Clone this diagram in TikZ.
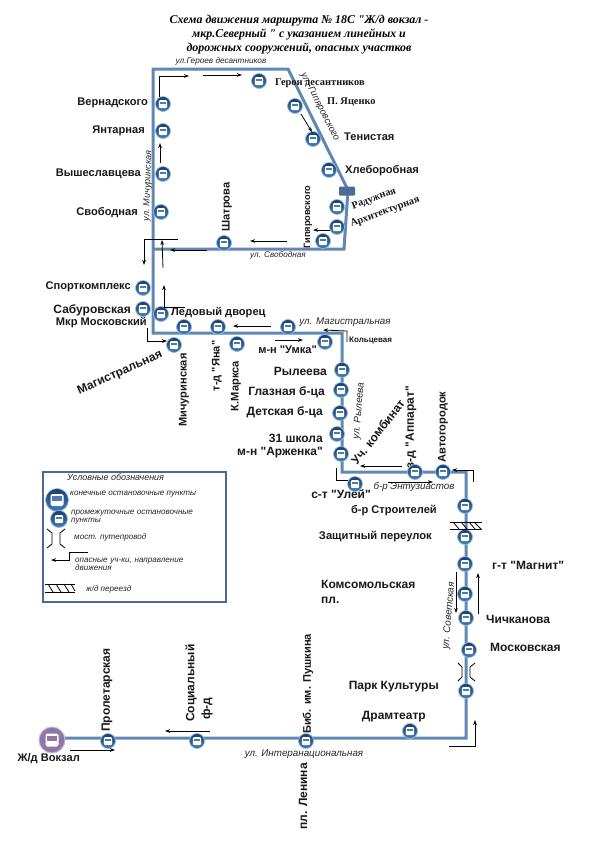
\documentclass[tikz,border=0pt]{standalone}
\usepackage{fontspec}
\newfontfamily\sansf{Liberation Sans}
\newfontfamily\ttlfont{Liberation Serif}
\usetikzlibrary{arrows.meta}
\definecolor{routeblue}{HTML}{5F88B5}
\definecolor{stopblue}{HTML}{1F5C99}
\definecolor{stopdark}{HTML}{173F6E}
\definecolor{stoplight}{HTML}{3E7DB8}
\definecolor{stopedge}{HTML}{9DBBD8}
\definecolor{stopwin}{HTML}{4F7BA8}
\definecolor{stopviolet}{HTML}{8E76A8}
\definecolor{legendblue}{HTML}{4A6A94}
\newcommand{\fs}[1]{\fontsize{#1}{#1}\selectfont}
\tikzset{
 x=1pt,y=-1pt,
 route/.style={draw=routeblue,line width=3pt,line join=miter},
 warn/.style={draw=black,line width=.8pt,-{Stealth[length=5pt,width=3.6pt]}},
 plain/.style={draw=black,line width=.8pt},
 lab/.style={inner sep=0pt,font=\sansf\fs{11.1}\bfseries,text=black!90},
 big/.style={font=\sansf\fs{12}\bfseries},
 sm/.style={inner sep=0pt,font=\sansf\fs{8}\bfseries,text=black!90},
 slab/.style={inner sep=0pt,font=\ttlfont\fs{10.4}\bfseries,text=black!90},
 road/.style={inner sep=0pt,font=\sansf\fs{8.2}\itshape,text=black!85},
 roadb/.style={inner sep=0pt,font=\sansf\fs{9.8}\itshape,text=black!85},
 leg/.style={inner sep=0pt,align=left,anchor=north west,font=\sansf\fs{8.1}\itshape,text=black!85},
 ttl/.style={inner sep=0pt,font=\ttlfont\fs{11.9}\bfseries\itshape},
 stop/.style={circle,inner sep=0pt,minimum size=15pt,top color=stopdark,bottom color=stoplight,draw=stopedge,line width=.7pt,
   path picture={
   \begin{scope}[shift={(path picture bounding box.center)}]
     \fill[white,rounded corners=1.2pt] (-4.2,-4) rectangle (4.2,4);
     \fill[stopwin] (-3.3,-2.4) rectangle (3.3,0.4);
   \end{scope}}},
 bigstop/.style={circle,inner sep=0pt,minimum size=23pt,top color=stopdark,bottom color=stoplight,draw=stopedge,line width=.7pt,
   path picture={
   \begin{scope}[shift={(path picture bounding box.center)}]
     \fill[white,rounded corners=1.6pt] (-6.5,-6) rectangle (6.5,6);
     \fill[stopwin] (-5,-3.6) rectangle (5,0.6);
   \end{scope}}},
 termstop/.style={circle,inner sep=0pt,minimum size=26pt,fill=stopviolet,draw=stopviolet!50,line width=1pt,
   path picture={
   \begin{scope}[shift={(path picture bounding box.center)}]
     \fill[white,rounded corners=1.6pt] (-6.5,-6.5) rectangle (6.5,6.5);
     \fill[stopviolet] (-5,-4.2) rectangle (5,0.6);
   \end{scope}}},
}
\begin{document}
\begin{tikzpicture}
\useasboundingbox (0,0) rectangle (592,844);
\fill[white] (0,0) rectangle (592,844);
% title
\node[ttl] (t1) at (299,21) {Схема движения маршрута № 18С "Ж/д вокзал -};
\node[ttl] (t2) at (299,34) {мкр.Северный  " с указанием линейных и};
\node[ttl] (t3) at (299,48) {дорожных сооружений, опасных участков};
% route corners
\coordinate (c0) at (52,738);
\coordinate (c1) at (466,738);
\coordinate (c2) at (466,472);
\coordinate (c3) at (342,472);
\coordinate (c4) at (342,333);
\coordinate (c5) at (153,333);
\coordinate (c6) at (153,69);
\coordinate (c7) at (288,69);
\coordinate (c8) at (348,190);
\coordinate (c9) at (344,249);
\coordinate (c10) at (153,249);
\draw[route] (c0) -- (c1) -- (c2) -- (c3) -- (c4) -- (c5) -- (c6) -- (c7) -- (c8) -- (c9) -- (c10);
% road names
\node[road] (r1) at (221,61) {ул.Героев десантников};
\node[roadb,font=\sansf\fs{9.4}\itshape,rotate=-63] (r2) at (320,107) {ул. Гипяровского};
\node[road,font=\sansf\fs{9}\itshape,rotate=88] (r3) at (148,186) {ул. Мичуринская};
\node[road] (r4) at (278,255) {ул. Свободная};
\node[roadb] (r5) at (345,322) {ул. Магистральная};
\node[roadb,rotate=85] (r6) at (359,411) {ул. Рылеева};
\node[roadb] (r7) at (414,487) {б-р Энтузиастов};
\node[roadb,rotate=85] (r8) at (449,616) {ул. Советская};
\node[roadb] (r9) at (304,754) {ул. Интеранациональная};
% labels
\node[slab,anchor=west] (l1) at (275,83) {Герои десантников};
\node[slab,anchor=west] (l2) at (327,102) {П. Яценко};
\node[lab,anchor=west] (l3) at (344,137) {Тенистая};
\node[lab,anchor=west] (l4) at (345,171) {Хлеборобная};
\node[slab,rotate=20] (l5) at (374,199) {Радужная};
\node[slab,rotate=20] (l6) at (385,212) {Архитектурная};
\node[lab,font=\sansf\fs{9.2}\bfseries,rotate=90] (l7) at (308,217) {Гипяровского};
\node[lab,rotate=90] (l8) at (227,207) {Шатрова};
\node[lab,anchor=east] (l9) at (148,103) {Вернадского};
\node[lab,anchor=east] (l10) at (145,131) {Янтарная};
\node[lab,anchor=east] (l11) at (141,174) {Вышеславцева};
\node[lab,anchor=east] (l12) at (138,213) {Свободная};
\node[lab,anchor=east] (l13) at (131,287) {Спорткомплекс};
\node[lab,big,anchor=east] (l14) at (131,310) {Сабуровская};
\node[lab,anchor=east] (l15) at (147,323) {Мкр Московский};
\node[lab,anchor=west] (l16) at (171,313) {Ледовый дворец};
\node[lab,big,rotate=24] (l17) at (120,373) {Магистральная};
\node[lab,rotate=90] (l18) at (184,390) {Мичуринская};
\node[lab,rotate=90] (l19) at (217,366) {т-д "Яна"};
\node[lab,rotate=90] (l20) at (236,386) {К.Маркса};
\node[lab,anchor=east] (l21) at (317,350) {м-н "Умка"};
\node[sm,anchor=west] (l22) at (349,341) {Кольцевая};
\node[lab,big,anchor=east] (l23) at (327,371) {Рылеева};
\node[lab,big,anchor=east] (l24) at (325,392) {Глазная б-ца};
\node[lab,big,anchor=east] (l25) at (323,412) {Детская б-ца};
\node[lab,big,anchor=east] (l26) at (323,438) {31 школа};
\node[lab,big,anchor=east] (l27) at (323,453) {м-н "Арженка"};
\node[lab,big,rotate=52] (l28) at (378,432) {Уч. комбинат};
\node[lab,big,rotate=90] (l29) at (411,427) {з-д "Аппарат"};
\node[lab,rotate=90] (l30) at (443,427) {Автогородок};
\node[lab,big,anchor=east] (l31) at (371,494) {с-т "Улей"};
\node[lab,anchor=east] (l32) at (437,511) {б-р Строителей};
\node[lab,font=\sansf\fs{11.2}\bfseries,anchor=east] (l33) at (432,536) {Защитный переулок};
\node[lab,big,anchor=west] (l34) at (492,565) {г-т "Магнит"};
\node[lab,big,anchor=north west,align=left] (l35) at (321,580) {Комсомольская\\[3pt]пл.};
\node[lab,big,anchor=west] (l36) at (486,619) {Чичканова};
\node[lab,big,anchor=west] (l37) at (490,647) {Московская};
\node[lab,big,anchor=east] (l38) at (439,687) {Парк Культуры};
\node[lab,big,anchor=east] (l39) at (426,717) {Драмтеатр};
\node[lab,big,rotate=90,anchor=west] (l40) at (107,732) {Пролетарская};
\node[lab,big,rotate=90,anchor=west] (l41) at (191,722) {Социальный};
\node[lab,big,rotate=90,anchor=west] (l42) at (207,720) {ф-д};
\node[lab,rotate=90,anchor=west] (l43) at (308,734) {Биб. им. Пушкина};
\node[lab,big,rotate=90,anchor=east] (l44) at (303,763) {пл. Ленина};
\node[lab,anchor=east] (l45) at (80,759) {Ж/д Вокзал};
% stops
\node[stop] (s1) at (259,81) {};
\node[stop] (s2) at (295,106) {};
\node[stop] (s3) at (313,139) {};
\node[stop] (s4) at (329,170) {};
\node[draw=none,fill=routeblue!80!black,rounded corners=1pt,minimum width=16pt,minimum height=9pt,inner sep=0pt] (br) at (347,191) {};
\node[stop] (s5) at (337,207) {};
\node[stop] (s6) at (337,227) {};
\node[stop] (s7) at (323,241) {};
\node[stop] (s8) at (224,243) {};
\node[stop] (s9) at (163,104) {};
\node[stop] (s10) at (163,131) {};
\node[stop] (s11) at (163,174) {};
\node[stop] (s12) at (161,212) {};
\node[stop] (s13) at (143,288) {};
\node[stop] (s14) at (143,309) {};
\node[stop] (s15) at (161,314) {};
\node[stop] (s16) at (184,327) {};
\node[stop] (s17) at (218,327) {};
\node[stop] (s18) at (174,345) {};
\node[stop] (s19) at (237,344) {};
\node[stop] (s20) at (288,327) {};
\node[stop] (s21) at (325,342) {};
\node[stop] (s22) at (342,370) {};
\node[stop] (s23) at (341,390) {};
\node[stop] (s24) at (340,413) {};
\node[stop] (s25) at (337,434) {};
\node[stop] (s26) at (341,454) {};
\node[stop] (s27) at (355,484) {};
\node[stop] (s28) at (415,472) {};
\node[stop] (s29) at (443,472) {};
\node[stop] (s30) at (465,506) {};
\node[stop] (s31) at (465,537) {};
\node[stop] (s32) at (465,564) {};
\node[stop] (s33) at (465,594) {};
\node[stop] (s34) at (466,618) {};
\node[stop] (s35) at (469,650) {};
\node[stop] (s36) at (466,691) {};
\node[stop] (s37) at (410,731) {};
\node[stop] (s38) at (306,741) {};
\node[stop] (s39) at (197,741) {};
\node[stop] (s40) at (108,741) {};
\node[termstop] (s41) at (52,740) {};
% danger arrows
\draw[warn] (159,97) -- (159,76) -- (189,76);
\draw[warn] (203,75) -- (242,75);
\draw[warn] (301,114) -- (312,132);
\draw[warn] (160,163) -- (160,143);
\draw[warn] (287,241) -- (250,241);
\draw[warn] (330,230) -- (313,230);
\draw[warn] (178,239) -- (144,239) -- (144,265);
\draw[warn] (163,268) -- (162,240);
\draw[warn] (207,250) -- (170,250);
\draw[warn] (185,307) -- (164,307) -- (164,285);
\draw[warn] (147,328) -- (147,341) -- (167,341);
\draw[warn] (271,326) -- (233,326);
\draw[warn] (275,340) -- (303,340);
\draw[warn] (347,342) -- (347,331) -- (323,330);
\draw[plain] (336,468) -- (336,480) -- (348,480);
\draw[warn] (402,466) -- (360,466);
\draw[warn] (388,482) -- (433,482);
\draw[warn] (473,482) -- (473,470) -- (452,470);
\draw[warn] (456,572) -- (456,613);
\draw[warn] (478,614) -- (478,573);
\draw[warn] (449,746) -- (475,746) -- (475,720);
\draw[warn] (70,750) -- (115,750);
\draw[warn] (210,731) -- (165,731);
% railway crossing
\draw[plain] (450,522) -- (482,522) (450,529) -- (482,529);
\draw[plain] (453,522) -- (459,529) (461,522) -- (467,529) (469,522) -- (475,529) (474,522) -- (481,529);
% bridge
\draw[plain] (458,663) -- (462,667) -- (462,677) -- (458,681);
\draw[plain] (475,663) -- (470,667) -- (470,677) -- (475,681);
% legend
\node[draw=legendblue,line width=2pt,fill=white,minimum width=183pt,minimum height=130pt,inner sep=0pt] (lg) at (134.5,537) {};
\node[leg,font=\sansf\fs{9}\itshape] (g1) at (67,474) {Условные обозначения};
\node[bigstop] (g2) at (57,500) {};
\node[stop,minimum size=17pt] (g3) at (59,519) {};
\node[leg] (g4) at (70,491) {конечные остановочные пункты};
\node[leg,text width=135pt] (g5) at (71,510) {промежуточные остановочные\\[0pt]пункты};
\node[leg] (g6) at (74,533) {мост. путепровод};
\node[leg,text width=130pt] (g7) at (75,558) {опасные уч-ки, направление\\[0pt]движения};
\node[leg] (g8) at (86,585) {ж/д переезд};
\draw[plain] (47,529) -- (52,533) -- (52,544) -- (47,548);
\draw[plain] (65,529) -- (60,533) -- (60,544) -- (65,548);
\draw[warn] (88,552) -- (69,552) -- (69,560) -- (51,560);
\draw[plain] (45,584) -- (75,584) (45,592) -- (75,592);
\draw[plain] (48,584) -- (53,592) (56,584) -- (61,592) (64,584) -- (69,592) (71,584) -- (75,591);
\end{tikzpicture}
\end{document}
